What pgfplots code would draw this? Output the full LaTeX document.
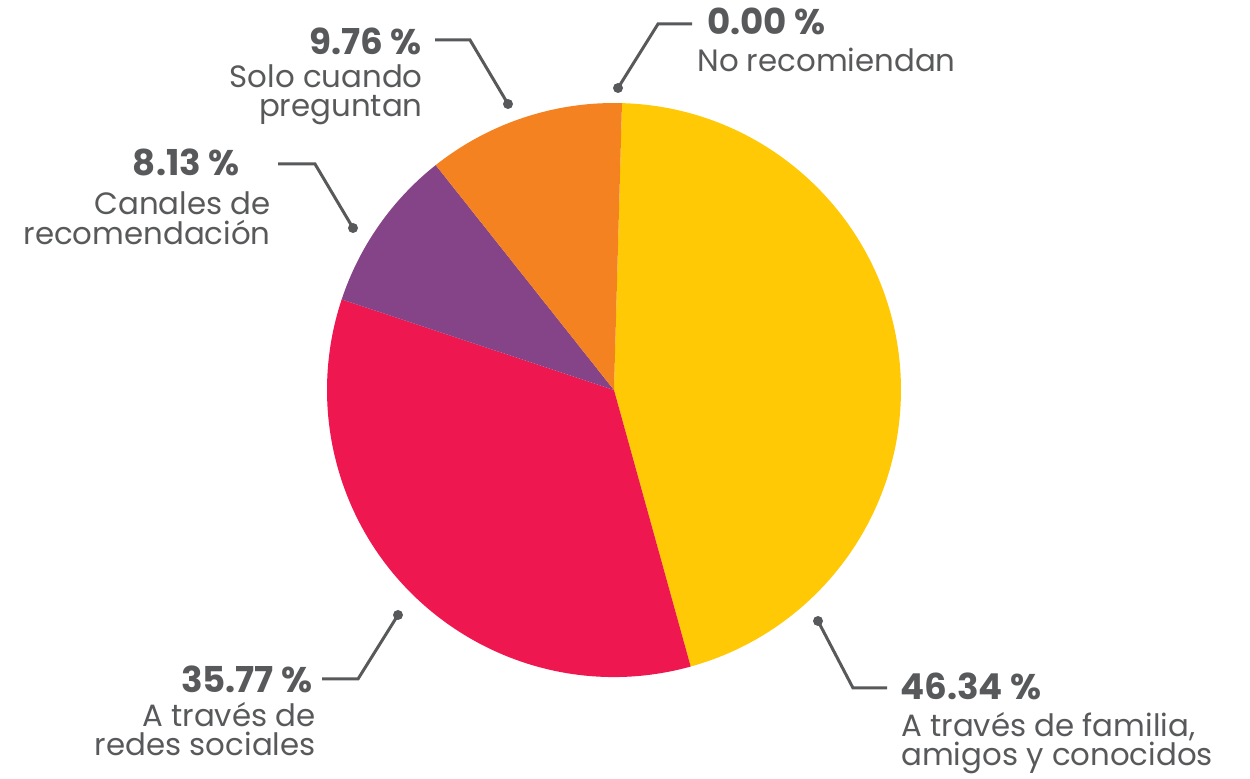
\documentclass[border=0pt]{standalone}
\usepackage{fontspec}
\setmainfont{Poppins}
\usepackage{pgfplots}
\pgfplotsset{compat=1.18}
\usepgfplotslibrary{polar}
\definecolor{pieyellow}{HTML}{FFC906}
\definecolor{piered}{HTML}{EE1750}
\definecolor{piepurple}{HTML}{854487}
\definecolor{pieorange}{HTML}{F48220}
\definecolor{ink}{HTML}{58595B}

\newcommand{\numfont}{\fontsize{21.4}{24}\bfseries\selectfont}
\newcommand{\txtfont}{\fontsize{18.5}{14.4}\selectfont}

\begin{document}
\begin{tikzpicture}[x=0.6pt, y=0.6pt]
\useasboundingbox (0,0) rectangle (1250,779);
% slices as drawn: edge angles (deg, counter-clockwise from east)
\begin{polaraxis}[hide axis, scale only axis, width=344.4pt, height=344.4pt,
  xmin=0, xmax=360, ymin=0, ymax=1, clip=false,
  at={(368.4pt,233.4pt)}, anchor=center]
\addplot[fill=pieyellow, draw=none] coordinates {(0,0) (88.4,1)}
  arc[start angle=88.4, end angle=-74.5, radius=172.2pt] -- cycle;
\addplot[fill=piered, draw=none] coordinates {(0,0) (285.5,1)}
  arc[start angle=285.5, end angle=161.6, radius=172.2pt] -- cycle;
\addplot[fill=piepurple, draw=none] coordinates {(0,0) (161.6,1)}
  arc[start angle=161.6, end angle=128.4, radius=172.2pt] -- cycle;
\addplot[fill=pieorange, draw=none] coordinates {(0,0) (128.4,1)}
  arc[start angle=128.4, end angle=88.4, radius=172.2pt] -- cycle;
\end{polaraxis}

% annotations in image pixels, measured from the top-left corner
\begin{scope}[shift={(0,779)}, y=-0.6pt]
\begin{scope}[ink, line width=1.8pt]
\draw (435,40) -- (470,40) -- (508,104); \fill (508,104) circle[radius=3pt];
\draw (692,24) -- (658,24) -- (618,88); \fill (618,88) circle[radius=3pt];
\draw (278,164) -- (315,164) -- (353,228); \fill (353,228) circle[radius=3pt];
\draw (322,679) -- (358,679) -- (398,615); \fill (398,615) circle[radius=3pt];
\draw (887,688) -- (853,688) -- (818,621); \fill (818,621) circle[radius=3pt];
\end{scope}

\begin{scope}[text=ink, inner sep=0pt]
\node[anchor=base east, font=\numfont] at (422,55) {9.76 \%};
\node[anchor=base east, font=\txtfont] at (423,88) {Solo cuando};
\node[anchor=base east, font=\txtfont] at (423,117) {preguntan};

\node[anchor=base west, font=\numfont] at (707,35) {0.00 \%};
\node[anchor=base west, font=\txtfont] at (697,72) {No recomiendan};

\node[anchor=base east, font=\numfont] at (240,176) {8.13 \%};
\node[anchor=base east, font=\txtfont] at (271,215) {Canales de};
\node[anchor=base east, font=\txtfont] at (271,245) {recomendación};

\node[anchor=base east, font=\numfont] at (313,693) {35.77 \%};
\node[anchor=base east, font=\txtfont] at (316,727) {A través de};
\node[anchor=base east, font=\txtfont] at (316,756) {redes sociales};

\node[anchor=base west, font=\numfont] at (900,700) {46.34 \%};
\node[anchor=base west, font=\txtfont] at (901,737) {A través de familia,};
\node[anchor=base west, font=\txtfont] at (901,766) {amigos y conocidos};
\end{scope}
\end{scope}
\end{tikzpicture}
\end{document}
